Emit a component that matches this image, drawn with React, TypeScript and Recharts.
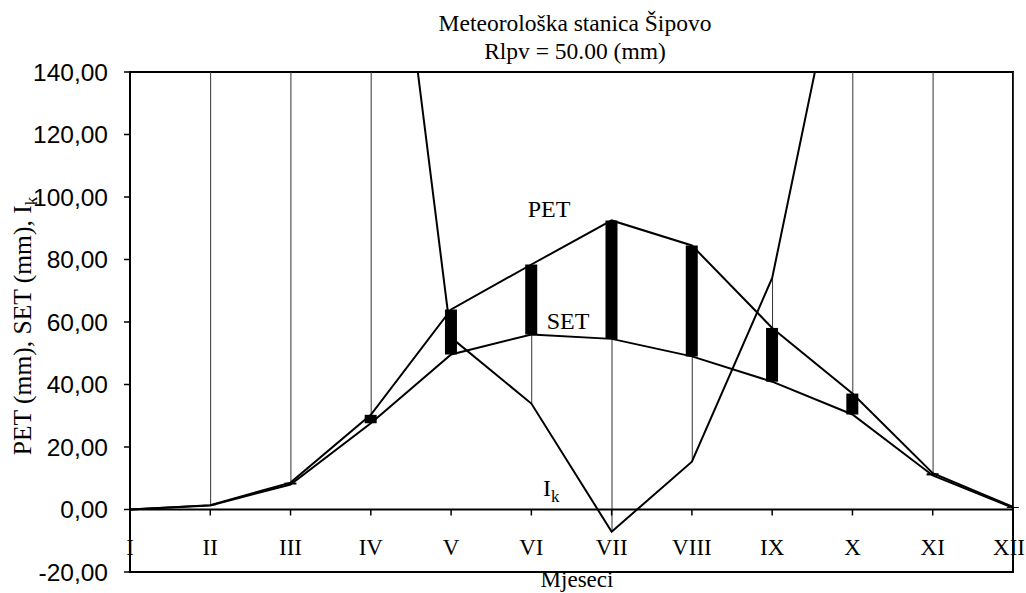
import {
  ComposedChart,
  Line,
  Bar,
  XAxis,
  YAxis,
  ReferenceLine,
  ReferenceArea,
} from 'recharts'

const months = ['I', 'II', 'III', 'IV', 'V', 'VI', 'VII', 'VIII', 'IX', 'X', 'XI', 'XII']
const petValues = [0, 1.4, 8.6, 30.3, 64, 78.4, 92.5, 84.5, 58.1, 37.1, 11.6, 0.8]
const setValues = [0, 1.3, 8.0, 27.6, 49.6, 56, 54.6, 49, 40.9, 30.4, 10.9, 0.5]
const ikValues = [620, 520, 410, 260, 55, 33.9, -7.1, 15.3, 74.1, 198, 330, 480]
const yTicks = [-20, 0, 20, 40, 60, 80, 100, 120, 140]

const W = 1026
const H = 593
const TOP = 72
const BOTTOM = 20
const X_AXIS_H = 1
const PLOT_H = H - TOP - BOTTOM - X_AXIS_H
const ZERO_Y = TOP + (PLOT_H * 140) / 160

const SERIF = '"Liberation Serif", "Times New Roman", serif'
const SANS = '"Liberation Sans", Arial, sans-serif'

const data = months.map((m, i) => ({
  idx: i,
  month: m,
  pet: petValues[i],
  set: setValues[i],
  ik: ikValues[i],
  upDown: [setValues[i], petValues[i]],
  hiLo: [
    Math.min(petValues[i], setValues[i], ikValues[i]),
    Math.max(petValues[i], setValues[i], ikValues[i]),
  ],
}))

// eslint-disable-next-line @typescript-eslint/no-explicit-any
function MonthTick({ x, payload }: any) {
  // keep the last label inside the picture, like the original does
  const lx = Math.min(x, W - 17)
  return (
    <g>
      <line x1={x} x2={x} y1={ZERO_Y} y2={ZERO_Y + 6} stroke="#000" strokeWidth={1.5} />
      <text x={lx} y={ZERO_Y + 45} textAnchor="middle" fontFamily={SERIF} fontSize={23} fill="#000">
        {months[payload.value]}
      </text>
    </g>
  )
}

// eslint-disable-next-line @typescript-eslint/no-explicit-any
function HiLoShape(p: any) {
  const cx = p.x + p.width / 2
  return <line x1={cx} x2={cx} y1={p.y} y2={p.y + p.height} stroke="#333" strokeWidth={1} />
}

export default function App() {
  return (
    <div style={{ position: 'absolute', left: 0, top: 0, width: W, height: H, background: '#fff' }}>
      <ComposedChart
        width={W}
        height={H}
        data={data}
        margin={{ top: TOP, right: 13, bottom: BOTTOM, left: 0 }}
      >
        <XAxis
          dataKey="idx"
          type="number"
          domain={[0, 11]}
          ticks={months.map((_, i) => i)}
          tick={<MonthTick />}
          axisLine={false}
          tickLine={false}
          height={X_AXIS_H}
          interval={0}
        />
        <XAxis xAxisId="hl" dataKey="idx" type="number" domain={[0, 11]} hide />
        <YAxis
          domain={[-20, 140]}
          ticks={yTicks}
          allowDataOverflow
          width={130}
          interval={0}
          tickFormatter={v => v.toFixed(2).replace('.', ',')}
          tick={{ fontSize: 24.5, fill: '#000', fontFamily: SANS }}
          axisLine={{ stroke: '#000', strokeWidth: 2 }}
          tickLine={{ stroke: '#000', strokeWidth: 1.5 }}
          tickSize={6}
          tickMargin={16}
        />
        <ReferenceArea x1={0} x2={11} y1={-20} y2={140} fill="none" stroke="#000" strokeWidth={2} />
        <ReferenceLine y={0} stroke="#000" strokeWidth={2} />
        <Bar
          xAxisId="hl"
          dataKey="hiLo"
          barSize={1}
          shape={<HiLoShape />}
          isAnimationActive={false}
        />
        <Line type="linear" dataKey="pet" stroke="#000" strokeWidth={2} dot={false} isAnimationActive={false} />
        <Line type="linear" dataKey="set" stroke="#000" strokeWidth={2} dot={false} isAnimationActive={false} />
        <Line type="linear" dataKey="ik" stroke="#000" strokeWidth={2} dot={false} isAnimationActive={false} />
        <Bar dataKey="upDown" barSize={12} fill="#000" isAnimationActive={false} />
      </ComposedChart>
      <svg
        width={W}
        height={H}
        style={{ position: 'absolute', left: 0, top: 0, pointerEvents: 'none' }}
      >
        <text x={575} y={31} textAnchor="middle" fontFamily={SERIF} fontSize={23.5} fill="#000">
          Meteorološka stanica Šipovo
        </text>
        <text x={575} y={59} textAnchor="middle" fontFamily={SERIF} fontSize={23.5} fill="#000">
          Rlpv = 50.00 (mm)
        </text>
        <text x={549} y={217} textAnchor="middle" fontFamily={SERIF} fontSize={24} fill="#000">
          PET
        </text>
        <text x={568} y={329} textAnchor="middle" fontFamily={SERIF} fontSize={24} fill="#000">
          SET
        </text>
        <text x={543} y={496} fontFamily={SERIF} fontSize={24} fill="#000">
          I<tspan dy={6} fontSize={17}>k</tspan>
        </text>
        <text x={577} y={587} textAnchor="middle" fontFamily={SERIF} fontSize={23} fill="#000">
          Mjeseci
        </text>
        <text
          transform="translate(31, 326) rotate(-90)"
          textAnchor="middle"
          fontFamily={SERIF}
          fontSize={25.5}
          fill="#000"
        >
          PET (mm), SET (mm), I<tspan dy={6} fontSize={17}>k</tspan>
        </text>
      </svg>
    </div>
  )
}
